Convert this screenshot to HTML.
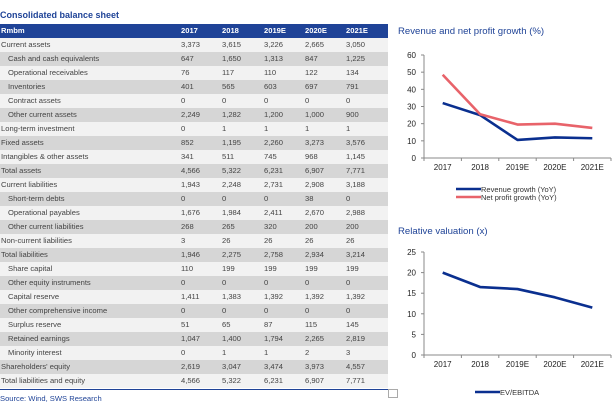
<!DOCTYPE html>
<html><head><meta charset="utf-8"><style>
body{margin:0;width:613px;height:419px;background:#fff;font-family:"Liberation Sans",sans-serif;position:relative;overflow:hidden}
.t{position:absolute;white-space:nowrap}
#tbl{position:absolute;left:0;top:24px;width:388px;border-collapse:collapse;font-size:7.6px;color:#444}
#tbl td{height:14px;padding:0;line-height:14px}
#tbl tr.h td{background:#1f4397;color:#fff;font-weight:bold;height:14px}
#tbl tr:nth-child(even) td{background:#f2f2f2}
#tbl tr:nth-child(odd):not(.h) td{background:#d6d6d6}
#tbl td.l{padding-left:1px}
#tbl td.i{padding-left:8px}
</style></head><body>
<div class="t" style="left:0;top:10px;font-size:9px;font-weight:bold;color:#1f4397">Consolidated balance sheet</div>
<table id="tbl">
<colgroup><col style="width:181px"><col style="width:41px"><col style="width:42px"><col style="width:41px"><col style="width:41px"><col style="width:42px"></colgroup>
<tr class="h"><td class="l">Rmbm</td><td>2017</td><td>2018</td><td>2019E</td><td>2020E</td><td>2021E</td></tr>
<tr><td class="l">Current assets</td><td>3,373</td><td>3,615</td><td>3,226</td><td>2,665</td><td>3,050</td></tr>
<tr><td class="i">Cash and cash equivalents</td><td>647</td><td>1,650</td><td>1,313</td><td>847</td><td>1,225</td></tr>
<tr><td class="i">Operational receivables</td><td>76</td><td>117</td><td>110</td><td>122</td><td>134</td></tr>
<tr><td class="i">Inventories</td><td>401</td><td>565</td><td>603</td><td>697</td><td>791</td></tr>
<tr><td class="i">Contract assets</td><td>0</td><td>0</td><td>0</td><td>0</td><td>0</td></tr>
<tr><td class="i">Other current assets</td><td>2,249</td><td>1,282</td><td>1,200</td><td>1,000</td><td>900</td></tr>
<tr><td class="l">Long-term investment</td><td>0</td><td>1</td><td>1</td><td>1</td><td>1</td></tr>
<tr><td class="l">Fixed assets</td><td>852</td><td>1,195</td><td>2,260</td><td>3,273</td><td>3,576</td></tr>
<tr><td class="l">Intangibles &amp; other assets</td><td>341</td><td>511</td><td>745</td><td>968</td><td>1,145</td></tr>
<tr><td class="l">Total assets</td><td>4,566</td><td>5,322</td><td>6,231</td><td>6,907</td><td>7,771</td></tr>
<tr><td class="l">Current liabilities</td><td>1,943</td><td>2,248</td><td>2,731</td><td>2,908</td><td>3,188</td></tr>
<tr><td class="i">Short-term debts</td><td>0</td><td>0</td><td>0</td><td>38</td><td>0</td></tr>
<tr><td class="i">Operational payables</td><td>1,676</td><td>1,984</td><td>2,411</td><td>2,670</td><td>2,988</td></tr>
<tr><td class="i">Other current liabilities</td><td>268</td><td>265</td><td>320</td><td>200</td><td>200</td></tr>
<tr><td class="l">Non-current liabilities</td><td>3</td><td>26</td><td>26</td><td>26</td><td>26</td></tr>
<tr><td class="l">Total liabilities</td><td>1,946</td><td>2,275</td><td>2,758</td><td>2,934</td><td>3,214</td></tr>
<tr><td class="i">Share capital</td><td>110</td><td>199</td><td>199</td><td>199</td><td>199</td></tr>
<tr><td class="i">Other equity instruments</td><td>0</td><td>0</td><td>0</td><td>0</td><td>0</td></tr>
<tr><td class="i">Capital reserve</td><td>1,411</td><td>1,383</td><td>1,392</td><td>1,392</td><td>1,392</td></tr>
<tr><td class="i">Other comprehensive income</td><td>0</td><td>0</td><td>0</td><td>0</td><td>0</td></tr>
<tr><td class="i">Surplus reserve</td><td>51</td><td>65</td><td>87</td><td>115</td><td>145</td></tr>
<tr><td class="i">Retained earnings</td><td>1,047</td><td>1,400</td><td>1,794</td><td>2,265</td><td>2,819</td></tr>
<tr><td class="i">Minority interest</td><td>0</td><td>1</td><td>1</td><td>2</td><td>3</td></tr>
<tr><td class="l">Shareholders' equity</td><td>2,619</td><td>3,047</td><td>3,474</td><td>3,973</td><td>4,557</td></tr>
<tr><td class="l">Total liabilities and equity</td><td>4,566</td><td>5,322</td><td>6,231</td><td>6,907</td><td>7,771</td></tr>
</table>
<div style="position:absolute;left:0;top:389px;width:388px;height:1px;background:#1f4397"></div>
<div style="position:absolute;left:388px;top:389px;width:8px;height:7px;border:1px solid #aaa"></div>
<div class="t" style="left:0;top:394px;font-size:7.6px;color:#1f4397">Source: Wind, SWS Research</div>
<div class="t" style="left:398px;top:26px;font-size:9.6px;color:#1f4397">Revenue and net profit growth (%)</div>
<div class="t" style="left:398px;top:226px;font-size:9.6px;color:#1f4397">Relative valuation (x)</div>
<svg id="c" width="613" height="419" style="position:absolute;left:0;top:0"></svg>
<script>
const cats=["2017","2018","2019E","2020E","2021E"];
const revenue=[32,25,10.5,12,11.5];
const netProfit=[48.5,25.5,19.5,20,17.5];
const g1Ticks=[0,10,20,30,40,50,60];
const evEbitda=[20,16.5,16,14,11.5];
const g2Ticks=[0,5,10,15,20,25];
const svg=document.getElementById('c');
const NS='http://www.w3.org/2000/svg';
function mk(tag,attrs,name){const e=document.createElementNS(NS,tag);for(const k in attrs)e.setAttribute(k,attrs[k]);


svg.appendChild(e);return e;}
function chart(x0,x1,yTop,yBot,maxV,ticks,series,prefix){
 const cw=(x1-x0)/cats.length;
 const xs=i=>x0+cw*(i+0.5);
 const ys=v=>yBot-(v/maxV)*(yBot-yTop);
 mk('line',{x1:x0,y1:yTop,x2:x0,y2:yBot,stroke:'#888','stroke-width':1},prefix+'-y-axis');
 mk('line',{x1:x0,y1:yBot,x2:x1,y2:yBot,stroke:'#888','stroke-width':1},prefix+'-x-axis');
 ticks.forEach(t=>{mk('line',{x1:x0-3,y1:ys(t),x2:x0,y2:ys(t),stroke:'#888'},prefix+'-y-tick');
  const tx=mk('text',{x:x0-8,y:ys(t)+3,'text-anchor':'end','font-size':8,fill:'#222','font-family':'Liberation Sans'},prefix+'-y-tick-label');tx.textContent=t;});
 for(let i=0;i<=cats.length;i++)mk('line',{x1:x0+cw*i,y1:yBot,x2:x0+cw*i,y2:yBot+3,stroke:'#888'},prefix+'-x-tick');
 cats.forEach((c,i)=>{const tx=mk('text',{x:xs(i),y:yBot+12,'text-anchor':'middle','font-size':8,fill:'#222','font-family':'Liberation Sans'},prefix+'-x-tick-label');tx.textContent=c;});
 series.forEach(s=>{mk('polyline',{points:s.d.map((v,i)=>xs(i)+','+ys(v)).join(' '),fill:'none',stroke:s.c,'stroke-width':2.6,'stroke-linejoin':'round'},s.n);});
}
chart(424,611,55,158,60,g1Ticks,[{d:revenue,c:'#0a2f8f',n:'revenue-growth-line'},{d:netProfit,c:'#e8636a',n:'net-profit-growth-line'}],'growth');
chart(424,611,252,355,25,g2Ticks,[{d:evEbitda,c:'#0a2f8f',n:'ev-ebitda-line'}],'valuation');
function legend(x,y,c,label,name){mk('line',{x1:x,y1:y,x2:x+25,y2:y,stroke:c,'stroke-width':2.6},name+'-swatch');
 const t=mk('text',{x:x+25,y:y+3,'font-size':7.5,fill:'#333','font-family':'Liberation Sans'},name+'-label');t.textContent=label;}
legend(456,189,'#0a2f8f','Revenue growth (YoY)','legend-revenue');
legend(456,197,'#e8636a','Net profit growth (YoY)','legend-net-profit');
legend(475,392,'#0a2f8f','EV/EBITDA','legend-ev-ebitda');
</script>
</body></html>
